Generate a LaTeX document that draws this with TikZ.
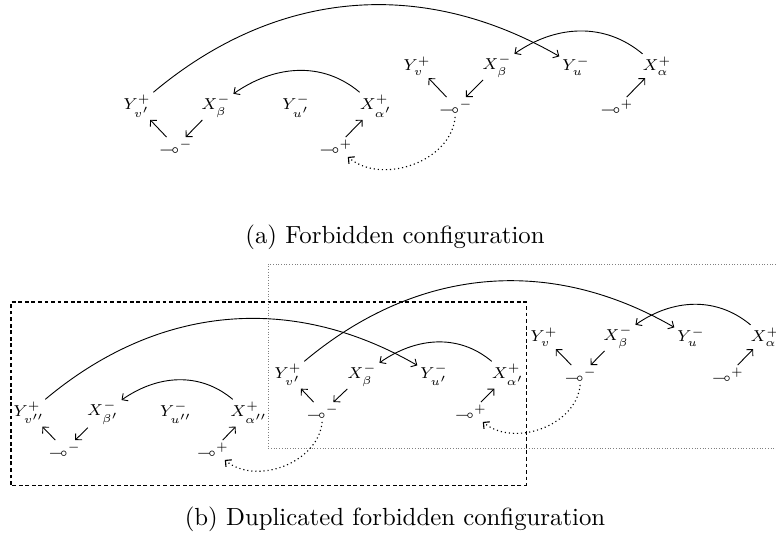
\documentclass[tikz,border=0pt]{standalone}
\usepackage{amssymb}
\usetikzlibrary{arrows.meta}
\begin{document}
\begin{tikzpicture}[x=0.442pt,y=0.442pt,
  lbl/.style={inner sep=1pt, font=\scriptsize},
  lblb/.style={inner sep=1pt, font=\fontsize{6.6}{7}\selectfont},
  conn/.style={-{Straight Barb[length=2pt,width=4pt]}, line width=0.4pt},
  dotconn/.style={-{Straight Barb[length=2pt,width=4pt]}, dash pattern=on 0.5pt off 1.3pt, line width=0.5pt},
  captext/.style={anchor=base, inner sep=0pt, font=\fontsize{10.95}{13.6}\selectfont}]
\useasboundingbox (0,0) rectangle (776,558);

% ---------- (a) cluster 1
\node[lbl] (a1y) at (137,452) {$Y^+_{v'}$};
\node[lbl] (a1x) at (216,452) {$X^-_{\beta}$};
\node[lbl] (a1u) at (296,452) {$Y^-_{u'}$};
\node[lbl] (a1a) at (376,452) {$X^+_{\alpha'}$};
\node[lbl] (a1m) at (176,411) {$\multimap^-$};
\node[lbl] (a1p) at (336,411) {$\multimap^+$};
% ---------- (a) cluster 2
\node[lbl] (a2y) at (417,492) {$Y^+_{v}$};
\node[lbl] (a2x) at (497,492) {$X^-_{\beta}$};
\node[lbl] (a2u) at (576,492) {$Y^-_{u}$};
\node[lbl] (a2a) at (657,492) {$X^+_{\alpha}$};
\node[lbl] (a2m) at (456,451) {$\multimap^-$};
\node[lbl] (a2p) at (617,451) {$\multimap^+$};

\draw[conn] (a1m) -- (a1y);
\draw[conn] (a1x) -- (a1m);
\draw[conn] (a1p) -- (a1a);
\draw[conn] (a1a) to[out=140,in=35] (a1x);
\draw[conn] (a2m) -- (a2y);
\draw[conn] (a2x) -- (a2m);
\draw[conn] (a2p) -- (a2a);
\draw[conn] (a2a) to[out=140,in=35] (a2x);
\draw[conn] (a1y) to[out=40,in=150] (a2u);
\draw[dotconn] (a2m) to[out=-95,in=-40] (a1p);

\node[captext] (capa) at (395,315) {(a) Forbidden configuration};

% ---------- (b) frames
\draw[dash pattern=on 1.7pt off 1.2pt, line width=0.45pt] (11,73) rectangle (526,256);
\draw[gray, dash pattern=on 0.4pt off 0.8pt, line width=0.4pt] (776,294) -- (268,294) -- (268,110) -- (776,110);

% ---------- (b) cluster 1
\node[lblb] (b1y) at (29,145) {$Y^+_{v''}$};
\node[lblb] (b1x) at (103,145) {$X^-_{\beta'}$};
\node[lblb] (b1u) at (176,145) {$Y^-_{u''}$};
\node[lblb] (b1a) at (249,145) {$X^+_{\alpha''}$};
\node[lblb] (b1m) at (65,108) {$\multimap^-$};
\node[lblb] (b1p) at (213,108) {$\multimap^+$};
% ---------- (b) cluster 2
\node[lblb] (b2y) at (288,183) {$Y^+_{v'}$};
\node[lblb] (b2x) at (362,183) {$X^-_{\beta}$};
\node[lblb] (b2u) at (434,183) {$Y^-_{u'}$};
\node[lblb] (b2a) at (508,183) {$X^+_{\alpha'}$};
\node[lblb] (b2m) at (323,146) {$\multimap^-$};
\node[lblb] (b2p) at (471,146) {$\multimap^+$};
% ---------- (b) cluster 3
\node[lblb] (b3y) at (544,221) {$Y^+_{v}$};
\node[lblb] (b3x) at (618,221) {$X^-_{\beta}$};
\node[lblb] (b3u) at (691,221) {$Y^-_{u}$};
\node[lblb] (b3a) at (765,221) {$X^+_{\alpha}$};
\node[lblb] (b3m) at (581,183) {$\multimap^-$};
\node[lblb] (b3p) at (728,183) {$\multimap^+$};

\foreach \c in {b1,b2,b3}{
  \draw[conn] (\c m) -- (\c y);
  \draw[conn] (\c x) -- (\c m);
  \draw[conn] (\c p) -- (\c a);
  \draw[conn] (\c a) to[out=140,in=35] (\c x);
}
\draw[conn] (b1y) to[out=40,in=150] (b2u);
\draw[conn] (b2y) to[out=40,in=150] (b3u);
\draw[dotconn] (b2m) to[out=-95,in=-40] (b1p);
\draw[dotconn] (b3m) to[out=-95,in=-40] (b2p);

\node[captext] (capb) at (395,33) {(b) Duplicated forbidden configuration};
\end{tikzpicture}
\end{document}
